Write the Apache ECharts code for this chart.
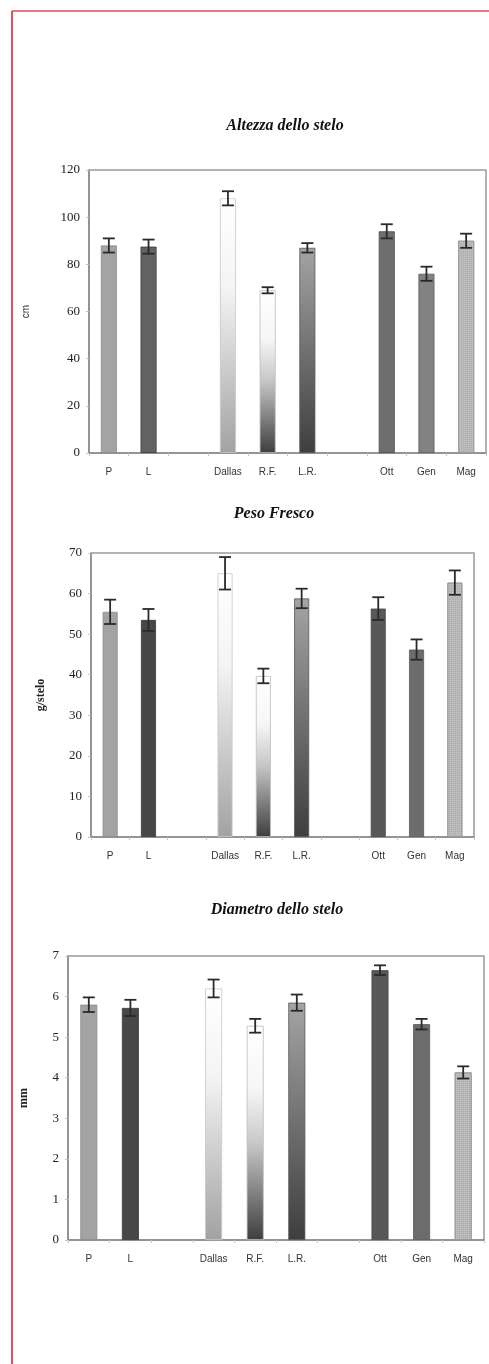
<!DOCTYPE html>
<html>
<head>
<meta charset="utf-8">
<script src="https://cdn.jsdelivr.net/npm/echarts@6/dist/echarts.min.js"></script>
<style>
  html, body { margin: 0; padding: 0; background: #fff; }
  #chart { width: 489px; height: 1364px; }
</style>
</head>
<body>
<div id="chart"></div>
<script>
// Treatment categories (blank slots separate the three groups)
const categories = ['P', 'L', '', 'Dallas', 'R.F.', 'L.R.', '', 'Ott', 'Gen', 'Mag'];

// Stem height (cm)
const altezza = [88, 87.5, null, 108, 69, 87, null, 94, 76, 90];
const altezzaErr = [3, 3, null, 3, 1.3, 2, null, 3, 3, 3];

// Fresh weight (g/stelo)
const peso = [55.5, 53.5, null, 65, 39.7, 58.8, null, 56.3, 46.2, 62.7];
const pesoErr = [3, 2.7, null, 4, 1.8, 2.4, null, 2.8, 2.5, 3];

// Stem diameter (mm)
const diametro = [5.8, 5.72, null, 6.2, 5.28, 5.85, null, 6.65, 5.32, 4.13];
const diametroErr = [0.18, 0.2, null, 0.22, 0.17, 0.2, null, 0.12, 0.13, 0.15];

const titles = ['Altezza dello stelo', 'Peso Fresco', 'Diametro dello stelo'];
const yNames = ['cm', 'g/stelo', 'mm'];
const yMax = [120, 70, 7];
const yInterval = [20, 10, 1];

function vgrad(stops) {
  return new echarts.graphic.LinearGradient(0, 0, 0, 1, stops);
}

// Fill styles for each bar position, one palette per panel
function palette(k) {
  const lDark = k === 0 ? '#626262' : '#474747';
  const ott = k === 0 ? '#6e6e6e' : '#585858';
  const gen = k === 0 ? '#828282' : '#6c6c6c';
  return [
    { color: '#a3a3a3', borderColor: '#8a8a8a' },
    { color: lDark, borderColor: '#3a3a3a' },
    null,
    { color: vgrad([{ offset: 0, color: '#ffffff' }, { offset: 0.35, color: '#f4f4f4' }, { offset: 1, color: '#a2a2a2' }]), borderColor: '#c8c8c8' },
    { color: vgrad([{ offset: 0, color: '#ffffff' }, { offset: 0.3, color: '#f6f6f6' }, { offset: 0.55, color: '#c8c8c8' }, { offset: 1, color: '#3e3e3e' }]), borderColor: '#bdbdbd' },
    { color: vgrad([{ offset: 0, color: '#a4a4a4' }, { offset: 1, color: '#3e3e3e' }]), borderColor: '#555' },
    null,
    { color: ott, borderColor: '#4a4a4a' },
    { color: gen, borderColor: '#5a5a5a' },
    { color: '#b2b2b2', borderColor: '#999',
      decal: { symbol: 'rect', symbolSize: 1, dashArrayX: [1, 1], dashArrayY: [1, 1], color: 'rgba(255,255,255,0.28)' } }
  ];
}

const grids = [
  { left: 89, top: 170, width: 397, height: 283 },
  { left: 91, top: 553, width: 383, height: 284 },
  { left: 68, top: 956, width: 416, height: 284 }
];
const barWidths = [16, 15, 17];
const nameGaps = [58, 44, 38];
const titlePos = [[285, 126], [274, 514], [277, 910]];

const valueSets = [altezza, peso, diametro];
const errSets = [altezzaErr, pesoErr, diametroErr];

function errorRender(params, api) {
  const i = api.value(0);
  const v = api.value(1);
  const e = api.value(2);
  const hi = api.coord([i, v + e]);
  const lo = api.coord([i, v - e]);
  const half = 6;
  const style = { stroke: '#2a2a2a', lineWidth: 1.8 };
  return {
    type: 'group',
    children: [
      { type: 'line', shape: { x1: hi[0], y1: hi[1], x2: lo[0], y2: lo[1] }, style },
      { type: 'line', shape: { x1: hi[0] - half, y1: hi[1], x2: hi[0] + half, y2: hi[1] }, style },
      { type: 'line', shape: { x1: lo[0] - half, y1: lo[1], x2: lo[0] + half, y2: lo[1] }, style }
    ]
  };
}

const option = {
  animation: false,
  backgroundColor: '#ffffff',
  grid: grids.map(g => Object.assign({ show: true, borderColor: '#9a9a9a', borderWidth: 1.5, backgroundColor: 'transparent' }, g)),
  xAxis: grids.map((g, k) => ({
    type: 'category',
    gridIndex: k,
    data: categories,
    axisLine: { lineStyle: { color: '#8a8a8a', width: 1.5 } },
    axisTick: { show: true, length: 3, lineStyle: { color: '#c4c4c4' } },
    axisLabel: { fontFamily: 'Liberation Sans', fontSize: 10, color: '#333', margin: 14, interval: 0 }
  })),
  yAxis: grids.map((g, k) => ({
    type: 'value',
    gridIndex: k,
    min: 0,
    max: yMax[k],
    interval: yInterval[k],
    name: yNames[k],
    nameLocation: 'middle',
    nameGap: nameGaps[k],
    nameTextStyle: k === 0
      ? { fontFamily: 'Liberation Sans', fontSize: 10, color: '#333' }
      : { fontFamily: 'Liberation Serif', fontSize: 12, fontWeight: 'bold', color: '#222' },
    splitLine: { show: false },
    axisLine: { show: true, lineStyle: { color: '#8a8a8a', width: 1.5 } },
    axisTick: { show: true, length: 3, lineStyle: { color: '#c4c4c4' } },
    axisLabel: { fontFamily: 'Liberation Serif', fontSize: 13, color: '#222', margin: 9 }
  })),
  series: [],
  graphic: [
    { type: 'line', shape: { x1: 12, y1: 11, x2: 489, y2: 11 }, style: { stroke: '#e8475f', lineWidth: 1.5 } },
    { type: 'line', shape: { x1: 12, y1: 11, x2: 12, y2: 1364 }, style: { stroke: '#e0102a', lineWidth: 1.5 } }
  ].concat(titles.map((t, k) => ({
    type: 'text',
    x: titlePos[k][0],
    y: titlePos[k][1],
    style: {
      text: t,
      fontFamily: 'Liberation Serif',
      fontStyle: 'italic',
      fontWeight: 'bold',
      fontSize: 16,
      fill: '#111',
      align: 'center',
      verticalAlign: 'middle'
    }
  })))
};

valueSets.forEach((vals, k) => {
  const pal = palette(k);
  option.series.push({
    type: 'bar',
    xAxisIndex: k,
    yAxisIndex: k,
    barWidth: barWidths[k],
    data: vals.map((v, i) => v == null ? null : {
      value: v,
      itemStyle: Object.assign({ borderWidth: 0.8 }, pal[i])
    })
  });
  const errs = errSets[k];
  const errData = [];
  vals.forEach((v, i) => { if (v != null) errData.push([i, v, errs[i]]); });
  option.series.push({
    type: 'custom',
    xAxisIndex: k,
    yAxisIndex: k,
    renderItem: errorRender,
    encode: { x: 0, y: 1 },
    data: errData,
    z: 5
  });
});

const chart = echarts.init(document.getElementById('chart'), null, { renderer: 'canvas' });
chart.setOption(option);
</script>
</body>
</html>
